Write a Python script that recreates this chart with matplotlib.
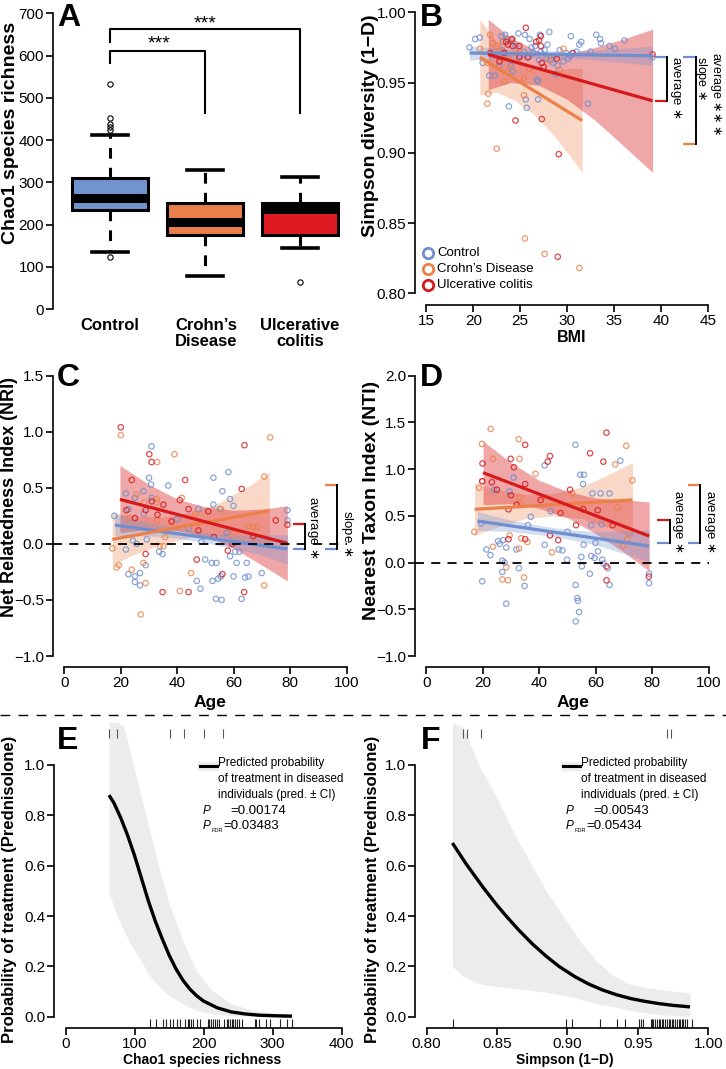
import numpy as np
import matplotlib
matplotlib.use('Agg')
import matplotlib.pyplot as plt
from matplotlib.lines import Line2D
from matplotlib.patches import Rectangle

plt.rcParams['font.family'] = ['Liberation Sans', 'DejaVu Sans']
plt.rcParams['axes.linewidth'] = 1.2

W, H = 726, 1069

BLUE = '#6f8fd0'
ORANGE = '#ec8048'
RED = '#d7191c'
BOX_COLORS = ['#7094cd', '#ea7f4b', '#de1a22']

# ---------------- data ----------------
groups = ['Control', 'Crohn\u2019s\nDisease', 'Ulcerative\ncolitis']
legend_labels = ['Control', 'Crohn\u2019s Disease', 'Ulcerative colitis']

# Chao1 boxes: q1, median, q3, whisker low, whisker high
chao_box = [(234, 262, 309, 136, 413),
            (175, 207, 252, 77, 329),
            (175, 236, 251, 144, 313)]
chao_fliers = [[122, 423, 431, 439, 451, 532], [], [65]]

# B: (BMI, Simpson)
b_ctrl = np.array([
    (19.6, .975), (20.2, .981), (20.7, .982), (21.0, .964), (21.7, .955), (22.3, .955), (23.0, .983),
    (23.1, .973), (23.4, .984), (23.8, .933), (24.2, .958), (24.8, .985), (25.5, .984), (25.6, .938),
    (25.7, .932), (26.0, .981), (26.4, .971), (26.6, .976), (26.9, .951), (26.9, .938), (27.1, .984),
    (27.2, .972), (27.6, .973), (27.9, .977), (28.1, .986), (28.3, .966), (28.5, .964), (29.2, .973),
    (29.6, .965), (30.3, .969), (30.4, .983), (31.3, .977), (31.5, .979), (32.2, .935), (33.1, .984),
    (33.5, .981), (33.6, .978), (34.5, .976), (35.1, .974), (36.1, .980), (39.1, .968), (23.2, .979),
    (23.6, .981), (24.1, .980), (24.5, .976), (25.0, .969), (25.4, .972), (25.9, .968), (26.2, .975),
    (27.0, .966), (27.8, .967), (28.7, .969), (29.0, .962), (29.9, .971), (30.1, .967), (31.0, .972),
    (32.5, .972), (22.8, .962), (24.0, .962), (26.8, .952), (28.8, .956)])
b_crohn = np.array([
    (20.7, .974), (21.5, .964), (21.6, .942), (21.5, .935), (21.8, .984), (22.1, .978), (22.5, .976),
    (22.5, .903), (23.0, .972), (23.3, .951), (23.7, .967), (23.9, .960), (24.6, .971), (24.9, .972),
    (25.4, .953), (25.4, .941), (25.5, .839), (26.0, .960), (27.6, .828), (28.1, .966), (29.6, .974),
    (31.3, .818), (24.2, .981), (23.1, .979), (29.2, .959)])
b_uc = np.array([
    (21.8, .971), (22.8, .965), (23.3, .971), (23.5, .979), (24.1, .981), (24.2, .976), (24.5, .923),
    (24.9, .968), (25.6, .989), (25.8, .968), (26.7, .979), (27.0, .980), (27.2, .976), (27.2, .983),
    (27.3, .924), (27.3, .964), (27.5, .961), (28.9, .967), (29.0, .826), (29.1, .899), (30.6, .971),
    (39.1, .970), (24.9, .976), (23.7, .977)])
# B fitted lines and confidence bands
b_fit_ctrl = ([19.6, 39.1], [0.971, 0.969])
b_fit_crohn = ([20.7, 31.6], [0.968, 0.923])
b_fit_uc = ([21.6, 39.1], [0.970, 0.937])
b_band_ctrl = ([19.6, 24, 28, 32, 36, 39.1],
               [0.966, 0.9675, 0.9676, 0.9667, 0.9643, 0.962],
               [0.976, 0.9735, 0.9726, 0.9727, 0.9743, 0.976])
b_band_crohn = ([20.7, 22.5, 24.5, 26.5, 28.5, 30.5, 31.6],
                [0.941, 0.943, 0.937, 0.927, 0.913, 0.896, 0.886],
                [0.995, 0.979, 0.967, 0.961, 0.959, 0.960, 0.960])
b_band_uc = ([21.6, 24, 27, 30, 33, 36, 39.1],
             [0.945, 0.950, 0.948, 0.938, 0.923, 0.905, 0.886],
             [0.995, 0.982, 0.972, 0.970, 0.975, 0.981, 0.988])

# C: (Age, NRI)
c_ctrl = np.array([
    (30.9, .87), (30.0, .59), (36.8, .52), (52.8, .59), (58.1, .64), (56.0, .47), (30.7, .53), (17.7, .25),
    (21.8, .45), (22.7, .31), (25.0, .41), (28.0, .47), (30.9, .41), (28.2, .27), (47.5, .31), (58.7, .40),
    (59.9, .34), (52.8, .35), (55.1, .31), (21.8, -.05), (24.3, .03), (29.2, .04), (25.6, .0), (22.7, -.27),
    (25.0, -.29), (26.8, -.26), (25.0, -.34), (26.8, -.37), (28.8, -.19), (33.6, -.07), (34.8, -.09),
    (46.9, -.33), (48.2, -.40), (49.9, -.14), (52.2, -.17), (53.9, -.17), (52.5, -.33), (54.5, -.31),
    (55.4, -.29), (53.7, -.49), (55.7, -.50), (58.7, -.11), (59.9, -.29), (60.5, -.07), (62.0, -.07),
    (61.0, -.17), (64.6, -.17), (64.0, -.30), (65.2, -.29), (62.8, -.49), (69.9, -.26), (79.0, .30),
    (79.0, .21), (48.6, .02), (57.5, .10), (40.0, .22), (44.0, .14)])
c_crohn = np.array([
    (20.0, .97), (39.0, .80), (32.9, .73), (72.9, .95), (70.8, .60), (32.7, .40), (32.7, .37), (17.0, -.04),
    (19.3, -.19), (18.5, -.21), (23.9, -.23), (27.1, -.63), (28.0, -.17), (28.8, -.35), (33.9, -.02),
    (35.1, -.02), (40.9, -.42), (44.9, -.26), (70.8, -.37), (66.7, .15), (65.2, .16), (68.1, .15),
    (23.0, .23), (32.9, .21), (35.7, .06), (28.3, .37), (41.6, .41), (46.5, .27), (55.5, .31), (60.0, .10),
    (25.5, .44)])
c_uc = np.array([
    (20.0, 1.04), (30.1, .80), (30.9, .73), (23.9, .57), (42.8, .57), (35.1, .35), (40.9, .39), (44.0, .31),
    (28.8, .30), (51.0, .29), (62.8, .49), (63.8, .88), (57.9, -.06), (46.9, -.14), (28.8, -.09),
    (56.0, -.27), (34.8, -.43), (44.0, -.43), (63.7, -.43), (74.9, .21), (79.0, .17), (66.9, .07),
    (25.0, .23), (31.0, .38), (22.0, .30), (38.0, .20), (47.5, .12), (53.0, .06), (59.5, .0), (33.0, .26)])
c_fit_ctrl = ([17.9, 79], [0.168, -0.046])
c_fit_crohn = ([17.0, 72.6], [0.04, 0.296])
c_fit_uc = ([19.7, 79], [0.397, 0.005])
c_band_ctrl = ([17.9, 30, 40, 50, 60, 70, 79],
               [0.07, 0.07, 0.05, 0.01, -0.04, -0.10, -0.18],
               [0.27, 0.19, 0.14, 0.10, 0.08, 0.08, 0.08])
c_band_crohn = ([17.0, 25, 35, 45, 55, 65, 72.6],
                [-0.19, -0.09, 0.0, 0.06, 0.07, 0.01, -0.04],
                [0.27, 0.25, 0.24, 0.28, 0.37, 0.51, 0.64])
c_band_uc = ([19.7, 30, 40, 50, 60, 70, 79],
             [0.10, 0.13, 0.12, 0.07, -0.04, -0.19, -0.33],
             [0.70, 0.53, 0.40, 0.33, 0.30, 0.31, 0.34])

# D: (Age, NTI)
d_ctrl = np.array([
    (19.8, -.20), (28.3, -.44), (22.7, .08), (26.0, .20), (25.4, .23), (26.9, .02), (27.7, .0), (26.9, -.10),
    (28.3, .16), (32.8, -.06), (31.9, .14), (34.8, -.25), (37.0, .49), (41.9, 1.04), (41.9, .19), (46.9, .14),
    (48.2, .13), (49.8, .03), (52.8, 1.26), (52.9, -.24), (53.5, -.38), (53.7, -.41), (54.1, -.53),
    (52.9, -.63), (54.9, .06), (55.1, -.04), (55.7, .19), (54.5, .94), (55.8, .94), (55.5, .84), (57.9, -.12),
    (58.4, .07), (58.4, .40), (59.6, .05), (59.9, .21), (60.8, .12), (62.3, .03), (62.8, -.01), (64.3, -.06),
    (64.9, -.24), (64.9, .74), (68.7, 1.09), (78.9, -.12), (78.9, -.22), (58.8, .74), (62.0, .41), (61.7, .74),
    (21.3, .14), (19.5, .42), (27.2, .24), (29.5, .76), (30.9, .91), (24.0, .78), (36.0, .40), (44.0, .55),
    (50.0, .33)])
d_crohn = np.array([
    (19.7, 1.27), (22.8, 1.43), (32.7, 1.32), (33.0, 1.11), (18.7, .80), (19.8, .87), (17.0, .33), (23.6, .17),
    (28.3, -.05), (26.9, -.18), (28.9, -.19), (33.0, .70), (33.0, .63), (38.7, .95), (33.6, .26), (35.8, .22),
    (34.6, -.16), (44.5, .11), (29.5, .29), (70.8, 1.25), (73.0, .88), (66.9, 1.05), (67.7, .59), (71.1, .25),
    (69.7, .18), (55.5, .58), (51.7, .74), (32.8, .15), (23.6, 1.11), (41.0, .70)])
d_uc = np.array([
    (19.9, 1.06), (23.2, .86), (29.9, 1.11), (31.0, 1.02), (35.0, 1.26), (43.0, 1.08), (43.8, 1.14),
    (35.0, .84), (50.9, .78), (58.0, 1.17), (62.7, 1.08), (63.8, 1.39), (29.1, .25), (35.0, .25), (43.8, .29),
    (46.7, .24), (63.8, -.04), (63.8, -.19), (78.8, -.15), (29.1, .57), (55.6, .57), (60.7, .56), (19.8, .87),
    (25.0, .78), (40.5, .67), (47.5, .53), (53.0, .40), (66.0, .40), (30.0, .72), (32.0, .62)])
d_fit_ctrl = ([18.1, 78.9], [0.445, 0.177])
d_fit_crohn = ([17.1, 73.0], [0.57, 0.67])
d_fit_uc = ([20.1, 78.9], [0.962, 0.284])
d_band_ctrl = ([18.1, 30, 40, 50, 60, 70, 78.9],
               [0.345, 0.333, 0.298, 0.254, 0.19, 0.096, 0.007],
               [0.545, 0.453, 0.398, 0.354, 0.33, 0.336, 0.347])
d_band_crohn = ([17.1, 25, 35, 45, 55, 65, 73.0],
                [0.29, 0.38, 0.47, 0.50, 0.47, 0.37, 0.27],
                [0.85, 0.78, 0.73, 0.74, 0.81, 0.95, 1.07])
d_band_uc = ([20.1, 30, 40, 50, 60, 70, 78.9],
             [0.62, 0.63, 0.58, 0.48, 0.31, 0.11, -0.09],
             [1.30, 1.07, 0.88, 0.76, 0.69, 0.67, 0.65])

# E: predicted probability vs Chao1
e_x = [63, 70, 80, 90, 100, 110, 120, 130, 140, 150, 160, 170, 180, 190, 200, 220, 240, 260, 280, 300, 328]
e_pred = [0.88, 0.85, 0.79, 0.72, 0.64, 0.55, 0.46, 0.38, 0.31, 0.245, 0.19, 0.145, 0.11, 0.083, 0.062,
          0.035, 0.019, 0.011, 0.006, 0.004, 0.002]
e_band_x = [63, 75, 85, 92, 100, 110, 120, 135, 150, 170, 190, 210, 240, 280, 328]
e_band_lo = [0.49, 0.40, 0.34, 0.30, 0.265, 0.22, 0.17, 0.12, 0.085, 0.05, 0.025, 0.012, 0.004, 0.001, 0.0]
e_band_hi = [1.17, 1.17, 1.15, 1.07, 0.98, 0.87, 0.76, 0.60, 0.45, 0.30, 0.18, 0.11, 0.05, 0.02, 0.012]
e_rug_treated = [63.5, 75.2, 150.8, 172.1, 200.7, 228.4]
e_rug_untreated = [123, 131, 141.6, 146, 151, 156, 161, 166, 173, 177, 179.4, 182, 185, 191, 195, 206, 208.5,
                   211, 213, 217, 219, 223, 229, 233.5, 236, 238.5, 241, 243, 246, 248, 250.6, 255.6, 274,
                   276, 279.7, 291, 296.7, 311, 321, 328]
e_p, e_pfdr = '0.00174', '0.03483'

# F: predicted probability vs Simpson
f_x = [0.8184, 0.828, 0.84, 0.85, 0.857, 0.865, 0.875, 0.885, 0.894, 0.905, 0.915, 0.925, 0.935, 0.945,
       0.955, 0.965, 0.975, 0.987]
f_pred = [0.69, 0.608, 0.515, 0.443, 0.397, 0.347, 0.290, 0.240, 0.20, 0.160, 0.130, 0.106, 0.087, 0.072,
          0.061, 0.052, 0.045, 0.039]
f_band_x = [0.8184, 0.826, 0.838, 0.85, 0.861, 0.873, 0.885, 0.897, 0.909, 0.92, 0.932, 0.944, 0.956,
            0.968, 0.987]
f_band_lo = [0.20, 0.16, 0.13, 0.12, 0.113, 0.106, 0.097, 0.086, 0.07, 0.053, 0.04, 0.026, 0.015, 0.007, 0.0]
f_band_hi = [1.17, 1.15, 0.99, 0.87, 0.74, 0.62, 0.50, 0.40, 0.30, 0.225, 0.165, 0.13, 0.115, 0.106, 0.094]
f_rug_treated = [0.826, 0.829, 0.839, 0.971, 0.9735]
f_rug_untreated = [0.8185, 0.899, 0.903, 0.923, 0.935, 0.941, 0.951, 0.952, 0.954, 0.959, 0.960, 0.961,
                   0.962, 0.9635, 0.9647, 0.966, 0.967, 0.968, 0.969, 0.9707, 0.972, 0.973, 0.974, 0.975,
                   0.9767, 0.978, 0.979, 0.980, 0.981, 0.982, 0.9837, 0.985, 0.9887]
f_p, f_pfdr = '0.00543', '0.05434'

# ---------------- figure ----------------
fig = plt.figure(figsize=(W / 100, H / 100), dpi=100)


def ftext(x, y, s, **kw):
    return fig.text(x / W, 1 - y / H, s, **kw)


def axes_px(xa, xb, xlim, ya, yb, ylim):
    # place axes so that tick values land on the measured pixel positions
    sx = (xb[1] - xa[1]) / (xb[0] - xa[0])
    sy = (yb[1] - ya[1]) / (yb[0] - ya[0])
    left = xa[1] + (xlim[0] - xa[0]) * sx
    right = xa[1] + (xlim[1] - xa[0]) * sx
    bottom = ya[1] + (ylim[0] - ya[0]) * sy
    top = ya[1] + (ylim[1] - ya[0]) * sy
    ax = fig.add_axes([left / W, 1 - bottom / H, (right - left) / W, (bottom - top) / H])
    ax.set_xlim(xlim)
    ax.set_ylim(ylim)
    ax.patch.set_visible(False)
    return ax


def r_axes(ax, yt, ytl, xt=None, xtl=None):
    for s in ('top', 'right'):
        ax.spines[s].set_visible(False)
    ax.set_yticks(yt)
    ax.set_yticklabels(ytl)
    ax.spines['left'].set_bounds(yt[0], yt[-1])
    if xt is None:
        ax.spines['bottom'].set_visible(False)
        ax.set_xticks([])
    else:
        ax.set_xticks(xt)
        ax.set_xticklabels(xtl)
        ax.spines['bottom'].set_bounds(xt[0], xt[-1])
    ax.tick_params(direction='out', length=5, width=1.2, labelsize=11, pad=1.5)


def bracket(ax, x0, x1, ytop, ybot, ctop, cbot):
    ax.plot([x0, x1], [ytop, ytop], color=ctop, lw=1.6, clip_on=False, solid_capstyle='butt')
    ax.plot([x0, x1], [ybot, ybot], color=cbot, lw=1.6, clip_on=False, solid_capstyle='butt')
    ax.plot([x1, x1], [ytop, ybot], color='k', lw=1.4, clip_on=False)


def vtext(ax, x, y, s, size=9.5):
    ax.text(x, y, s, rotation=270, ha='center', va='center', fontsize=size, clip_on=False)


def scatter_panel(ax, pts, fits, bands):
    cols = [BLUE, ORANGE, RED]
    band_alpha = [0.3, 0.3, 0.38]
    for k in (1, 2, 0):
        bx, lo, hi = bands[k]
        ax.fill_between(bx, lo, hi, color=cols[k], alpha=band_alpha[k], lw=0, zorder=1)
    for k in (0, 1, 2):
        p = pts[k]
        ax.scatter(p[:, 0], p[:, 1], s=15, facecolors='none', edgecolors=cols[k],
                   linewidths=0.9, alpha=0.8, zorder=2)
    for k in (0, 1, 2):
        fx, fy = fits[k]
        ax.plot(fx, fy, color=cols[k], lw=2.3, zorder=3, solid_capstyle='butt')


# ---- A ----
axA = axes_px((1, 110), (3, 300), (0.4, 3.6), (0, 309), (700, 13.3), (-28, 728))
stats = []
for (q1, med, q3, lo, hi), fl in zip(chao_box, chao_fliers):
    stats.append(dict(q1=q1, med=med, q3=q3, whislo=lo, whishi=hi, fliers=fl))
bp = axA.bxp(stats, positions=[1, 2, 3], widths=0.8, patch_artist=True, showfliers=True,
             boxprops=dict(lw=2.2, edgecolor='k'),
             whiskerprops=dict(lw=2.2, ls=(0, (3.5, 3)), color='k'),
             capprops=dict(lw=2.6, color='k'), capwidths=0.37,
             medianprops=dict(color='k', lw=6.5, solid_capstyle='butt'),
             flierprops=dict(marker='o', ms=3.8, mfc='none', mec='k', mew=0.8))
for patch, c in zip(bp['boxes'], BOX_COLORS):
    patch.set_facecolor(c)
r_axes(axA, list(range(0, 701, 100)), [str(v) for v in range(0, 701, 100)])
axA.plot([1, 1, 2, 2], [583, 611, 611, 463], color='k', lw=1.5, clip_on=False)
axA.plot([1, 1, 3, 3], [632, 663, 663, 463], color='k', lw=1.5, clip_on=False)
axA.text(1.52, 617, '***', ha='center', va='baseline', fontsize=14, clip_on=False)
axA.text(2.0, 665, '***', ha='center', va='baseline', fontsize=14, clip_on=False)
for i, g in enumerate(groups):
    for j, line in enumerate(g.split('\n')):
        ftext([110, 206, 300][i], 325 + 17 * j, line, ha='center', va='center', fontsize=12,
              fontweight='bold')
ftext(11, 133, 'Chao1 species richness', rotation=90, ha='center', va='center', fontsize=14,
      fontweight='bold')

# ---- B ----
axB = axes_px((15, 426.3), (45, 708), (13.8, 46.2), (0.80, 293.3), (1.00, 12.3), (0.792, 1.008))
scatter_panel(axB, [b_ctrl, b_crohn, b_uc], [b_fit_ctrl, b_fit_crohn, b_fit_uc],
              [b_band_ctrl, b_band_crohn, b_band_uc])
r_axes(axB, [0.80, 0.85, 0.90, 0.95, 1.00], ['0.80', '0.85', '0.90', '0.95', '1.00'],
       [15, 20, 25, 30, 35, 40, 45], ['15', '20', '25', '30', '35', '40', '45'])
bracket(axB, 39.4, 40.6, 0.968, 0.937, BLUE, RED)
bracket(axB, 42.3, 43.7, 0.968, 0.906, BLUE, ORANGE)
vtext(axB, 41.6, 0.9466, r'average $\ast$')
vtext(axB, 44.3, 0.953, r'slope $\ast$', 9)
vtext(axB, 45.9, 0.9416, r'average $\ast\!\ast\!\ast$', 9)
ftext(370, 126, 'Simpson diversity (1\u2212D)', rotation=90, ha='center', va='center', fontsize=14,
      fontweight='bold')
ftext(572, 337, 'BMI', ha='center', va='center', fontsize=11.5, fontweight='bold')
for i, (lab, col) in enumerate(zip(legend_labels, [BLUE, ORANGE, RED])):
    yy = 253 + 16 * i
    fig.add_artist(Line2D([428 / W], [1 - yy / H], ls='none', marker='o', ms=7.5, mfc='none',
                          mec=col, mew=2.0, transform=fig.transFigure))
    ftext(437, yy, lab, ha='left', va='center', fontsize=9.5)

# ---- C ----
axC = axes_px((0, 64.3), (100, 346.7), (-4, 104), (-1.0, 656), (1.5, 375.7), (-1.1, 1.6))
scatter_panel(axC, [c_ctrl, c_crohn, c_uc], [c_fit_ctrl, c_fit_crohn, c_fit_uc],
              [c_band_ctrl, c_band_crohn, c_band_uc])
axC.plot([-4, 100], [0, 0], color='k', lw=1.3, ls=(0, (5, 4)), zorder=4)
r_axes(axC, [-1.0, -0.5, 0.0, 0.5, 1.0, 1.5],
       ['\u22121.0', '\u22120.5', '0.0', '0.5', '1.0', '1.5'],
       [0, 20, 40, 60, 80, 100], ['0', '20', '40', '60', '80', '100'])
bracket(axC, 80.9, 85.2, 0.174, -0.049, RED, BLUE)
bracket(axC, 92.3, 96.7, 0.525, -0.049, ORANGE, BLUE)
vtext(axC, 88.2, 0.15, r'average $\ast$')
vtext(axC, 100.0, 0.09, r'slope $\ast$')
ftext(9.5, 497, 'Net Relatedness Index (NRI)', rotation=90, ha='center', va='center', fontsize=13,
      fontweight='bold')
ftext(210, 703, 'Age', ha='center', va='center', fontsize=12.5, fontweight='bold')

# ---- D ----
axD = axes_px((0, 426.3), (100, 708.7), (-4, 104), (-1.0, 656), (2.0, 375.7), (-1.12, 2.12))
scatter_panel(axD, [d_ctrl, d_crohn, d_uc], [d_fit_ctrl, d_fit_crohn, d_fit_uc],
              [d_band_ctrl, d_band_crohn, d_band_uc])
axD.plot([-4, 100], [0, 0], color='k', lw=1.3, ls=(0, (5, 4)), zorder=4)
r_axes(axD, [-1.0, -0.5, 0.0, 0.5, 1.0, 1.5, 2.0],
       ['\u22121.0', '\u22120.5', '0.0', '0.5', '1.0', '1.5', '2.0'],
       [0, 20, 40, 60, 80, 100], ['0', '20', '40', '60', '80', '100'])
bracket(axD, 81.7, 86.2, 0.46, 0.21, RED, BLUE)
bracket(axD, 92.7, 97.0, 0.83, 0.21, ORANGE, BLUE)
vtext(axD, 89.1, 0.44, r'average $\ast$')
vtext(axD, 100.4, 0.44, r'average $\ast$')
ftext(371, 500, 'Nearest Taxon Index (NTI)', rotation=90, ha='center', va='center', fontsize=14,
      fontweight='bold')
ftext(573, 703, 'Age', ha='center', va='center', fontsize=12.5, fontweight='bold')

# separator
fig.add_artist(Line2D([0, 1], [1 - 715 / H, 1 - 715 / H], color='k', lw=1.0, ls=(0, (7, 6)),
                      transform=fig.transFigure))


# ---- E / F ----
def prob_panel(ax, x, pred, bx, blo, bhi, rug1, rug0):
    ax.fill_between(bx, blo, bhi, color='#ececec', lw=0, zorder=1, clip_on=False)
    ax.plot(x, pred, color='k', lw=2.4, zorder=3, solid_capstyle='butt', solid_joinstyle='round')
    tr = ax.get_xaxis_transform()
    ax.vlines(rug0, 0, 0.03, transform=tr, color='#222222', lw=0.8, zorder=2)
    ax.vlines(rug1, 0.97, 1.0, transform=tr, color='#555555', lw=0.8, zorder=2)
    r_axes(ax, [0, 0.2, 0.4, 0.6, 0.8, 1.0], ['0.0', '0.2', '0.4', '0.6', '0.8', '1.0'])


def prob_legend(x0, p, pfdr):
    fig.add_artist(Rectangle(((x0 - 2) / W, 1 - 770 / H), 20 / W, 8 / H, color='#ececec',
                             transform=fig.transFigure))
    fig.add_artist(Line2D([x0 / W, (x0 + 17) / W], [1 - 766 / H] * 2, color='k', lw=2.2,
                          transform=fig.transFigure))
    tx = x0 + 18
    ftext(tx, 763, 'Predicted probability', ha='left', va='center', fontsize=8.5)
    ftext(tx, 779, 'of treatment in diseased', ha='left', va='center', fontsize=8.5)
    ftext(tx, 795, 'individuals (pred. \u00b1 CI)', ha='left', va='center', fontsize=8.5)
    ftext(x0 + 3, 811, 'P', ha='left', va='center', fontsize=8.5, fontstyle='italic')
    ftext(x0 + 30, 811, '=' + p, ha='left', va='center', fontsize=9.5)
    ftext(x0 + 3, 826, 'P', ha='left', va='center', fontsize=8.5, fontstyle='italic')
    ftext(x0 + 11.5, 830, 'FDR', ha='left', va='center', fontsize=4)
    ftext(x0 + 23, 826, '=' + pfdr, ha='left', va='center', fontsize=9.5)


axE = axes_px((0, 65.5), (400, 341.7), (-16, 416), (0, 1016.7), (1, 765), (-0.044, 1.144))
prob_panel(axE, e_x, e_pred, e_band_x, e_band_lo, e_band_hi, e_rug_treated, e_rug_untreated)
axE.set_xticks([0, 100, 200, 300, 400])
axE.set_xticklabels(['0', '100', '200', '300', '400'])
axE.spines['bottom'].set_visible(True)
axE.spines['bottom'].set_bounds(0, 400)
prob_legend(200, e_p, e_pfdr)
ftext(10, 889, 'Probability of treatment (Prednisolone)', rotation=90, ha='center', va='center',
      fontsize=12, fontweight='bold')
ftext(202, 1060, 'Chao1 species richness', ha='center', va='center', fontsize=10, fontweight='bold')

axF = axes_px((0.8, 426.5), (1.0, 708.3), (0.792, 1.008), (0, 1016.7), (1, 765), (-0.044, 1.144))
prob_panel(axF, f_x, f_pred, f_band_x, f_band_lo, f_band_hi, f_rug_treated, f_rug_untreated)
axF.set_xticks([0.80, 0.85, 0.90, 0.95, 1.00])
axF.set_xticklabels(['0.80', '0.85', '0.90', '0.95', '1.00'])
axF.spines['bottom'].set_visible(True)
axF.spines['bottom'].set_bounds(0.80, 1.00)
prob_legend(563, f_p, f_pfdr)
ftext(373, 889, 'Probability of treatment (Prednisolone)', rotation=90, ha='center', va='center',
      fontsize=12, fontweight='bold')
ftext(565, 1060, 'Simpson (1\u2212D)', ha='center', va='center', fontsize=10, fontweight='bold')

# panel letters
for lab, x, y in [('A', 57, 26), ('B', 420, 26), ('C', 57, 386), ('D', 420, 386),
                  ('E', 57, 749), ('F', 421, 749)]:
    ftext(x, y, lab, ha='left', va='baseline', fontsize=23, fontweight='bold')

fig.savefig('out.png', dpi=100)
